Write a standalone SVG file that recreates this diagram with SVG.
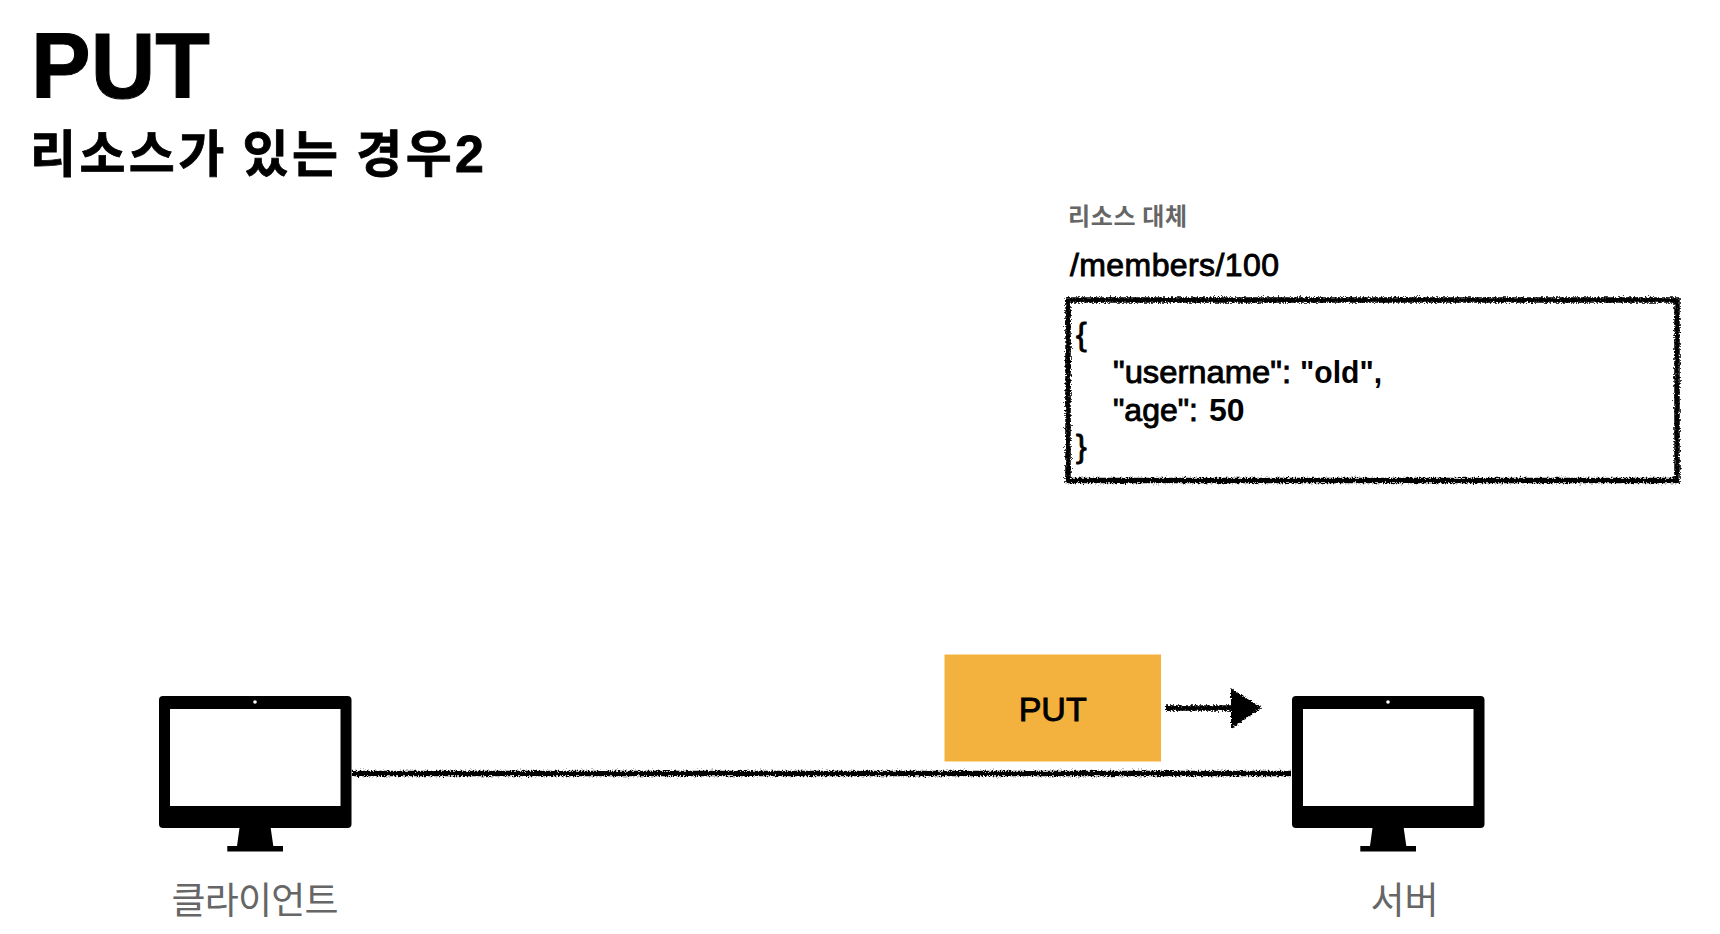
<svg xmlns="http://www.w3.org/2000/svg" width="1720" height="934" viewBox="0 0 1720 934">
<style>
text{font-family:"Liberation Sans","Noto Sans CJK KR",sans-serif;fill:#000}
.ko{font-family:"Noto Sans CJK KR","Liberation Sans",sans-serif}
.med{stroke:#000;stroke-width:.9}
.b{font-weight:700;stroke:none}
.gray{fill:#666}
.rough{fill:none;stroke:#000;filter:url(#rough)}
</style>
<defs>
<filter id="rough" x="0" y="0" width="1720" height="934" filterUnits="userSpaceOnUse" primitiveUnits="userSpaceOnUse">
<feTurbulence type="fractalNoise" baseFrequency="0.6" numOctaves="3" seed="4" result="n"/>
<feDisplacementMap in="SourceGraphic" in2="n" scale="5.500" xChannelSelector="R" yChannelSelector="G"/>
</filter>
<g id="monitor">
<rect x="159" y="696" width="192.500" height="132" rx="4" fill="#000"/>
<rect x="170" y="709" width="170.500" height="97" fill="#fff"/>
<circle cx="255" cy="702" r="1.800" fill="#fff"/>
<path d="M239.500 828H270.700L273.300 846H283V851.500H227.300V846H237Z" fill="#000"/>
</g>
</defs>
<rect width="1720" height="934" fill="#fff"/>
<g id="title">
<text x="31" y="98" font-size="92" font-weight="700" textLength="179" lengthAdjust="spacingAndGlyphs" stroke="#000" stroke-width="1">PUT</text>
<text class="ko" x="30" y="172" font-size="50" font-weight="700" stroke="#000" stroke-width=".8" textLength="454">리소스가 있는 경우<tspan style="font-family:'Liberation Sans'" font-size="52">2</tspan></text>
</g>
<g id="connectors">
<path class="rough" stroke-width="5.500" d="M352 773.500H1291"/>
<path class="rough" stroke-width="5.500" d="M1166 708H1240"/>
<path class="rough" stroke-width="4" style="fill:#000" d="M1233 692L1258 708L1233 725Z"/>
</g>
<g id="resource">
<text class="ko gray" x="1068" y="225" font-size="24" font-weight="700" textLength="119">리소스 대체</text>
<text class="med" x="1070" y="276" font-size="32" textLength="209">/members/100</text>
<rect class="rough" x="1068" y="300" width="609" height="180.500" stroke-width="5.500"/>
<text class="med" x="1076" y="345" font-size="32">{</text>
<text class="med" x="1113" y="383" font-size="32" textLength="178" lengthAdjust="spacingAndGlyphs">"username":</text>
<text class="b" x="1300" y="383" font-size="32" textLength="82" lengthAdjust="spacingAndGlyphs">"old",</text>
<text class="med" x="1113" y="421" font-size="32">"age":</text>
<text class="b" x="1209" y="421" font-size="32">50</text>
<text class="med" x="1076" y="457" font-size="32">}</text>
</g>
<g id="put">
<rect x="944.500" y="654.500" width="216.500" height="107" fill="#F3B13D"/>
<text class="med" x="1052.700" y="721" font-size="34" text-anchor="middle">PUT</text>
</g>
<g id="client">
<use href="#monitor"/>
<text class="ko gray" x="255" y="914" font-size="37" font-weight="400" text-anchor="middle" textLength="167">클라이언트</text>
</g>
<g id="server">
<use href="#monitor" x="1133"/>
<text class="ko gray" x="1404.500" y="914" font-size="37" font-weight="400" text-anchor="middle">서버</text>
</g>
</svg>
